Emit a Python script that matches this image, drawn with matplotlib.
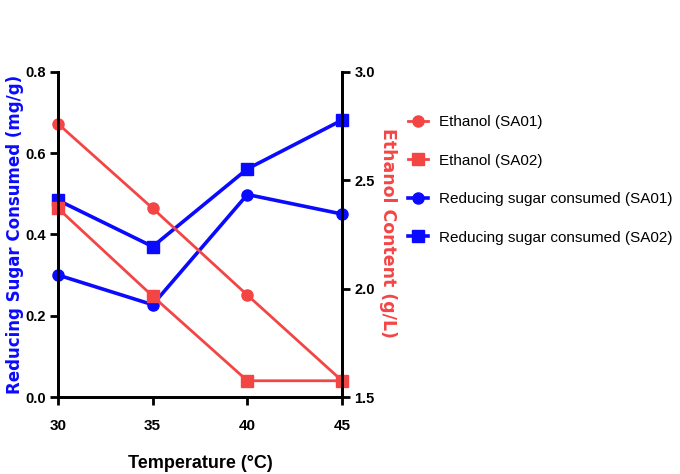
import matplotlib
matplotlib.use('Agg')
import matplotlib.pyplot as plt

plt.rcParams['font.family'] = ['Liberation Sans', 'DejaVu Sans']

temps = [30, 35, 40, 45]
ethanol_sa01 = [2.76, 2.37, 1.97, 1.575]
ethanol_sa02 = [2.37, 1.965, 1.575, 1.575]
sugar_sa01 = [0.30, 0.227, 0.498, 0.45]
sugar_sa02 = [0.484, 0.37, 0.561, 0.681]

red = '#f44545'
blue = '#0a0aff'

fig = plt.figure(figsize=(6.8, 4.74), dpi=100)
ax = fig.add_axes([0.0853, 0.1624, 0.4177, 0.6863])
ax2 = ax.twinx()

l3, = ax.plot(temps, sugar_sa01, color=blue, lw=2.6, marker='o', ms=8, label='Reducing sugar consumed (SA01)', zorder=3)
l4, = ax.plot(temps, sugar_sa02, color=blue, lw=2.6, marker='s', ms=8, label='Reducing sugar consumed (SA02)', zorder=3)
l1, = ax2.plot(temps, ethanol_sa01, color=red, lw=2, marker='o', ms=8, label='Ethanol (SA01)')
l2, = ax2.plot(temps, ethanol_sa02, color=red, lw=2, marker='s', ms=8, label='Ethanol (SA02)')
for l in (l1, l2, l3, l4):
    l.set_clip_on(False)

ax.set_xlim(30, 45)
ax.set_ylim(0, 0.8)
ax2.set_ylim(1.5, 3.0)
ax.set_xticks(temps)
ax.set_yticks([0.0, 0.2, 0.4, 0.6, 0.8])
ax.set_yticklabels(['0.0', '0.2', '0.4', '0.6', '0.8'])
ax2.set_yticks([1.5, 2.0, 2.5, 3.0])
ax2.set_yticklabels(['1.5', '2.0', '2.5', '3.0'])

for a in (ax, ax2):
    a.spines['top'].set_visible(False)
    for s in a.spines.values():
        s.set_linewidth(2)
    a.tick_params(width=2, length=6, labelsize=10.5, direction='out', pad=3)
    for t in a.get_xticklabels() + a.get_yticklabels():
        t.set_fontweight('bold')
ax.tick_params(axis='x', pad=10, labelsize=11)

fig.text(0.294, 0.023, 'Temperature (°C)', fontsize=13, fontweight='bold',
         ha='center', va='center')
fig.text(0.022, 0.506, 'Reducing Sugar Consumed (mg/g)', fontsize=12, fontweight='bold',
         color=blue, family=['DejaVu Sans'], rotation=90, ha='center', va='center')
fig.text(0.571, 0.508, 'Ethanol Content (g/L)', fontsize=12.5, fontweight='bold',
         color=red, family=['DejaVu Sans'], rotation=270, ha='center', va='center')

fig.legend(handles=[l1, l2, l3, l4], loc='upper left', bbox_to_anchor=(0.6, 0.757),
           frameon=False, fontsize=11, handlelength=1.3, labelspacing=1.6,
           handletextpad=0.75, borderaxespad=0, borderpad=0)

fig.savefig('out.png', dpi=100)
